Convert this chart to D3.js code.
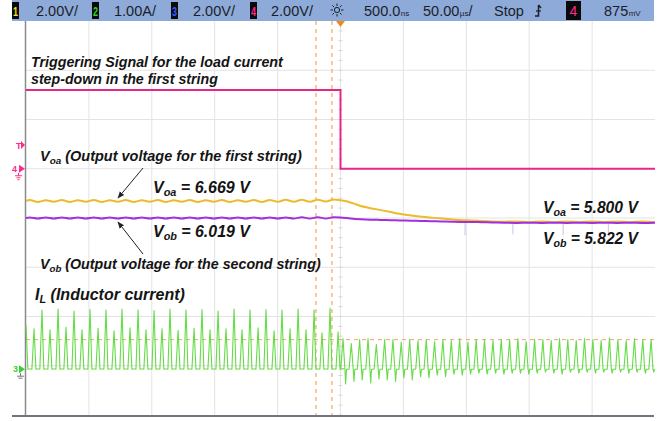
<!DOCTYPE html>
<html>
<head>
<meta charset="utf-8">
<script src="https://cdn.jsdelivr.net/npm/d3@7"></script>
<style>
  body { margin: 0; background: #fff; }
  svg { display: block; font-family: "Liberation Sans", Arial, sans-serif; }
</style>
</head>
<body>
<div id="scope"></div>
<script>
// ---- readout / data ----
const chanBoxes = ["1", "2", "3", "4"];
const chanScales = ["2.00V/", "1.00A/", "2.00V/", "2.00V/"];
const chanColors = ["#f2e21c", "#2bd62b", "#3a5cff", "#ff2a8c"];

// time axis in µs, 50 µs/div, trigger at centre
const timeTicks = [-250, -200, -150, -100, -50, 0, 50, 100, 150, 200, 250];
const divTicks = [-4, -3, -2, -1, 0, 1, 2, 3, 4];

// trigger signal (ch4, V)
const trigT = [-250, 0, 0, 250];
const trigV = [3.2, 3.2, 0, 0];

// output voltage ripple before the step (same sample times for both strings)
const rippleT = [-250, -247, -240.6, -234.3, -227.9, -221.5, -215.1, -208.8, -202.4, -196.1, -189.7,
  -183.4, -177, -170.7, -164.3, -157.9, -151.6, -145.2, -138.9, -132.5, -126.2, -119.8, -113.4,
  -107.1, -100.7, -94.3, -88, -81.6, -75.3, -68.9, -62.5, -56.2, -49.8, -43.5, -37.1, -30.7,
  -24.4, -18, -11.6, -5.3];
const voaRipple = [6.67, 6.71, 6.63, 6.70, 6.64, 6.71, 6.63, 6.70, 6.64, 6.71, 6.63,
  6.70, 6.64, 6.71, 6.63, 6.70, 6.64, 6.71, 6.63, 6.70, 6.64, 6.71, 6.63,
  6.70, 6.64, 6.71, 6.63, 6.70, 6.64, 6.71, 6.63, 6.71, 6.64, 6.72, 6.64, 6.72,
  6.64, 6.72, 6.65, 6.73];
const vobRipple = [6.02, 6.04, 6.00, 6.04, 6.00, 6.04, 6.00, 6.04, 6.00, 6.04, 6.00,
  6.04, 6.00, 6.04, 6.00, 6.04, 6.00, 6.04, 6.00, 6.04, 6.00, 6.04, 6.00,
  6.04, 6.00, 6.04, 6.00, 6.04, 6.00, 6.04, 6.00, 6.04, 6.00, 6.04, 6.00, 6.05,
  6.00, 6.05, 6.00, 6.05];

// output voltages after the step
const voaStepT = [0, 4, 8, 12, 16, 22, 28, 34, 40, 47, 55, 63, 71, 79, 87, 95, 103, 111, 120, 130,
  140, 150, 160, 170, 180, 190, 200, 210, 220, 230, 240, 250];
const voaStepV = [6.70, 6.67, 6.61, 6.54, 6.47, 6.40, 6.34, 6.28, 6.22, 6.15, 6.09, 6.04, 6.00, 5.97,
  5.93, 5.90, 5.88, 5.86, 5.84, 5.83, 5.84, 5.81, 5.84, 5.81, 5.84, 5.81, 5.84, 5.81, 5.84, 5.81, 5.84, 5.81];
const vobStepT = [0, 8, 16, 24, 32, 40, 48, 56, 64, 72, 80, 88, 96, 104, 112, 120, 130, 140,
  150, 160, 170, 180, 190, 200, 210, 220, 230, 240, 250];
const vobStepV = [6.04, 6.00, 5.97, 5.95, 5.94, 5.93, 5.92, 5.91, 5.90, 5.89, 5.88, 5.87, 5.86,
  5.86, 5.85, 5.84, 5.83, 5.82, 5.83, 5.82, 5.83, 5.82, 5.83, 5.82, 5.83, 5.82, 5.83, 5.82, 5.83];
// faint glitches below Vob after the step (µs, V reached)
const vobGlitchT = [99, 137, 177, 213];
const vobGlitchV = [5.32, 5.35, 5.32, 5.35];

// inductor current pulses (A above the valley) before the step
const ilPreT = [-250.0, -243.6, -237.3, -230.9, -224.5, -218.2, -211.8, -205.5, -199.1, -192.7,
  -186.4, -180.0, -173.7, -167.3, -160.9, -154.6, -148.2, -141.9, -135.5, -129.1, -122.8, -116.4,
  -110.1, -103.7, -97.3, -91.0, -84.6, -78.3, -71.9, -65.5, -59.2, -52.8, -46.5, -40.1, -33.7,
  -27.4, -21.0, -14.7, -8.3, -1.9];
const ilPreA = [0.9, 0.82, 1.2, 0.8, 1.22, 0.85, 1.18, 0.8, 1.21, 0.83, 1.2, 0.78, 1.22, 0.84,
  1.2, 0.8, 1.19, 0.82, 1.22, 0.79, 1.2, 0.83, 1.21, 0.8, 1.18, 0.82, 1.22, 0.8, 1.2, 0.84,
  1.21, 0.78, 1.2, 0.82, 1.22, 0.8, 1.2, 0.74, 1.24, 0.76];
// after the step: peaks and the negative spike following each one
const ilPostT = [2, 8.6, 15.2, 21.9, 28.5, 35.1, 41.7, 48.3, 55, 61.6, 68.2, 74.8, 81.4, 88.1,
  94.7, 101.3, 107.9, 114.5, 121.2, 127.8, 134.4, 141, 147.6, 154.3, 160.9, 167.5, 174.1, 180.7,
  187.4, 194, 200.6, 207.2, 213.8, 220.5, 227.1, 233.7, 240.3, 246.9];
const ilPostA = [0.62, 0.52, 0.6, 0.62, 0.5, 0.6, 0.6, 0.55, 0.6, 0.58, 0.6, 0.56, 0.6, 0.58,
  0.62, 0.55, 0.6, 0.6, 0.58, 0.6, 0.6, 0.62, 0.56, 0.6, 0.6, 0.58, 0.62, 0.6, 0.58, 0.62, 0.6,
  0.58, 0.64, 0.6, 0.58, 0.62, 0.6, 0.6];
const ilPostDip = [-0.3, -0.25, -0.22, -0.28, -0.2, -0.22, -0.25, -0.18, -0.22, -0.15, -0.18,
  -0.12, -0.15, -0.1, -0.12, -0.1, -0.08, -0.1, -0.08, -0.1, -0.08, -0.08, -0.1, -0.08, -0.06,
  -0.08, -0.1, -0.06, -0.08, -0.06, -0.08, -0.06, -0.08, -0.06, -0.08, -0.06, -0.08, -0.06];

// channel display settings: units per division and value at the centre line
const chVoa = { perDiv: 2, center: 5.98 };
const chVob = { perDiv: 2, center: 6.019 };
const chTrig = { perDiv: 2, center: -2 };
const chIL = { perDiv: 1, center: 3.07 };

// ---- layout ----
const W = 662, H = 421;
const x = d3.scaleLinear().domain([-250, 250]).range([26, 655]);
const y = d3.scaleLinear().domain([-4, 4]).range([415, 21]);
const yv = ch => v => y((v - ch.center) / ch.perDiv);

const svg = d3.select("#scope").append("svg")
  .attr("width", W).attr("height", H).attr("viewBox", `0 0 ${W} ${H}`);

svg.append("defs").append("marker")
  .attr("id", "arrow").attr("viewBox", "0 0 10 10")
  .attr("refX", 9).attr("refY", 5)
  .attr("markerWidth", 7).attr("markerHeight", 7)
  .attr("orient", "auto")
  .append("path").attr("d", "M0,1 L10,5 L0,9 Z").attr("fill", "#222");

// grid
const grid = svg.append("g").attr("class", "grid");
grid.selectAll("line.v").data(timeTicks.slice(1, -1)).join("line")
  .attr("class", "v")
  .attr("x1", d => x(d)).attr("x2", d => x(d))
  .attr("y1", y(4)).attr("y2", y(-4))
  .attr("stroke", "#e3e3e3").attr("stroke-width", 1);
grid.selectAll("line.h").data(divTicks.slice(1, -1)).join("line")
  .attr("class", "h")
  .attr("x1", x(-250)).attr("x2", x(250))
  .attr("y1", d => y(d)).attr("y2", d => y(d))
  .attr("stroke", "#e3e3e3").attr("stroke-width", 1);

// minor ticks on the centre line
grid.selectAll("line.mt").data(d3.range(-4, 4.01, 0.2)).join("line")
  .attr("class", "mt")
  .attr("x1", x(0) - 2).attr("x2", x(0) + 2)
  .attr("y1", d => y(d)).attr("y2", d => y(d))
  .attr("stroke", "#d6d6d6");

// time cursors and trigger level
const orange = "#f4a562";
svg.selectAll("line.cur").data([-19.5, -6.8]).join("line")
  .attr("class", "cur")
  .attr("x1", d => x(d)).attr("x2", d => x(d))
  .attr("y1", y(4)).attr("y2", y(-4))
  .attr("stroke", orange).attr("stroke-width", 1.2)
  .attr("stroke-dasharray", "4,4");
svg.append("line")
  .attr("x1", x(-250)).attr("x2", x(250))
  .attr("y1", yv(chIL)(0.6)).attr("y2", yv(chIL)(0.6))
  .attr("stroke", orange).attr("stroke-width", 1).attr("stroke-dasharray", "4,4");

// frame
svg.append("line").attr("x1", 25.5).attr("x2", 25.5).attr("y1", 21).attr("y2", 415)
  .attr("stroke", "#8a8a8a").attr("stroke-width", 1.5);
svg.append("line").attr("x1", 12).attr("x2", 654).attr("y1", 416).attr("y2", 416)
  .attr("stroke", "#6f7682").attr("stroke-width", 2);

// traces
const line = ch => d3.line().x(d => x(d[0])).y(d => yv(ch)(d[1]));

const trig = d3.zip(trigT, trigV);
svg.append("path").attr("d", line(chTrig)(trig))
  .attr("fill", "none").attr("stroke", "#e8268a").attr("stroke-width", 2);

const voa = d3.zip(rippleT, voaRipple).concat(d3.zip(voaStepT, voaStepV));
const vob = d3.zip(rippleT, vobRipple).concat(d3.zip(vobStepT, vobStepV));
svg.selectAll("line.glitch").data(d3.zip(vobGlitchT, vobGlitchV)).join("line")
  .attr("class", "glitch")
  .attr("x1", d => x(d[0])).attr("x2", d => x(d[0]))
  .attr("y1", yv(chVob)(5.82)).attr("y2", d => yv(chVob)(d[1]))
  .attr("stroke", "#d6cbf2").attr("stroke-width", 1.2);
svg.append("path").attr("d", line(chVoa).curve(d3.curveMonotoneX)(voa))
  .attr("fill", "none").attr("stroke", "#eabc2c").attr("stroke-width", 2);
svg.append("path").attr("d", line(chVob).curve(d3.curveMonotoneX)(vob))
  .attr("fill", "none").attr("stroke", "#a22ee0").attr("stroke-width", 2);

// inductor current: narrow triangle pulses off the valley current
const il = [[-250, 0.9]];
ilPreT.forEach((t, i) => {
  if (i > 0) il.push([t - 1.7, 0]);
  il.push([t, ilPreA[i]], [t + 1.5, 0], [t + 4.5, 0.01]);
});
ilPostT.forEach((t, i) => {
  il.push([t - 1.8, 0], [t, ilPostA[i]], [t + 1.5, 0], [t + 2.1, ilPostDip[i]], [t + 2.8, 0]);
});
const ilPts = il.filter(d => d[0] >= -250 && d[0] <= 250);
svg.append("path").attr("d", line(chIL)(ilPts))
  .attr("fill", "none").attr("stroke", "#66dc46").attr("stroke-width", 1.1)
  .attr("stroke-linejoin", "round");

// left channel markers
const mk = svg.append("g").attr("font-weight", "bold").attr("font-size", 9);
mk.append("text").attr("x", 16).attr("y", 149).attr("fill", "#ff2a8c").text("T");
mk.append("path").attr("d", "M21,141 L25,145 L21,149 Z").attr("fill", "#ff2a8c");
mk.append("text").attr("x", 12).attr("y", y(1) + 3).attr("fill", "#ff2a8c").text("4");
mk.append("path").attr("d", `M19,${y(1) - 4} L25,${y(1)} L19,${y(1) + 4} Z`).attr("fill", "#ff2a8c");
mk.append("path")
  .attr("d", `M18.5,${y(1) + 4} V${y(1) + 7} M15,${y(1) + 7} H22 M16.5,${y(1) + 9} H20.5 M17.5,${y(1) + 11} H19.5`)
  .attr("stroke", "#ff2a8c").attr("fill", "none");
const ilBase = yv(chIL)(0);
mk.append("text").attr("x", 13).attr("y", ilBase + 3).attr("fill", "#3fcf2a").text("3");
mk.append("path").attr("d", `M19,${ilBase - 4} L25,${ilBase} L19,${ilBase + 4} Z`).attr("fill", "#3fcf2a");
mk.append("path")
  .attr("d", `M20.5,${ilBase + 4} V${ilBase + 7} M17,${ilBase + 7} H24 M18.5,${ilBase + 9} H22.5`)
  .attr("stroke", "#777").attr("fill", "none");

// annotation labels
function label(x0, y0, size, parts, target) {
  const t = svg.append("text").attr("x", x0).attr("y", y0)
    .attr("font-size", size).attr("font-weight", "bold").attr("font-style", "italic")
    .attr("fill", "#141414");
  let shifted = false;
  parts.forEach(p => {
    const s = t.append("tspan").text(p.sub || p.t);
    if (p.sub) { s.attr("font-size", "0.68em").attr("dy", "0.3em"); shifted = true; }
    else if (shifted) { s.attr("dy", "-0.2em"); shifted = false; }
  });
  if (target) {
    const w = t.node().getComputedTextLength();
    t.attr("font-size", size * target / w);
  }
  return t;
}

label(31, 67, 13, [{ t: "Triggering Signal for the load current" }], 252);
label(31, 84, 13, [{ t: "step-down in the first string" }], 187);
label(40, 161, 13, [{ t: "V" }, { sub: "oa" }, { t: " (Output voltage for the first string)" }], 262);
label(153, 193, 15, [{ t: "V" }, { sub: "oa" }, { t: " = 6.669 V" }], 97);
label(153, 237, 15, [{ t: "V" }, { sub: "ob" }, { t: " = 6.019 V" }], 97);
label(40, 269, 13, [{ t: "V" }, { sub: "ob" }, { t: " (Output voltage for the second string)" }], 281);
label(35, 300, 16, [{ t: "I" }, { sub: "L" }, { t: " (Inductor current)" }], 150);
label(543, 213, 15, [{ t: "V" }, { sub: "oa" }, { t: " = 5.800 V" }], 95);
label(543, 244, 15, [{ t: "V" }, { sub: "ob" }, { t: " = 5.822 V" }], 95);

// arrows
svg.append("line").attr("x1", 143).attr("y1", 168).attr("x2", 118).attr("y2", 198)
  .attr("stroke", "#222").attr("stroke-width", 1).attr("marker-end", "url(#arrow)");
svg.append("line").attr("x1", 143).attr("y1", 254).attr("x2", 118).attr("y2", 222)
  .attr("stroke", "#222").attr("stroke-width", 1).attr("marker-end", "url(#arrow)");

// ---- header readout bar ----
const ink = "#1b1e2a";
const hdr = svg.append("g").attr("class", "header");
hdr.append("rect").attr("x", 12).attr("y", 0).attr("width", 642).attr("height", 21)
  .attr("fill", "#8eaad9");
const boxX = [12, 92, 171, 250];
const scaleX = [36, 114, 193, 271];
chanBoxes.forEach((c, i) => {
  hdr.append("rect").attr("x", boxX[i]).attr("y", 2).attr("width", 7).attr("height", 17).attr("fill", "#0a0a0a");
  hdr.append("text").attr("x", boxX[i] + 3.5).attr("y", 15.5).attr("text-anchor", "middle")
    .attr("font-size", 12).attr("font-weight", "bold").attr("fill", chanColors[i])
    .attr("textLength", 5).attr("lengthAdjust", "spacingAndGlyphs").text(c);
  hdr.append("text").attr("x", scaleX[i]).attr("y", 16).attr("font-size", 14.5)
    .attr("fill", ink).text(chanScales[i]);
});

// sun icon (intensity)
const sun = hdr.append("g").attr("transform", "translate(337,10)")
  .attr("stroke", ink).attr("fill", "none");
sun.append("circle").attr("r", 2.6);
d3.range(8).forEach(k => {
  const a = k * Math.PI / 4;
  sun.append("line").attr("x1", 4 * Math.cos(a)).attr("y1", 4 * Math.sin(a))
    .attr("x2", 6.5 * Math.cos(a)).attr("y2", 6.5 * Math.sin(a));
});

// readouts with a small unit glued to the number
function readout(xx, num, unit, tail) {
  const t = hdr.append("text").attr("x", xx).attr("y", 16).attr("font-size", 14.5).attr("fill", ink);
  t.append("tspan").text(num);
  t.append("tspan").attr("font-size", 8).attr("dx", 0.5).text(unit);
  if (tail) t.append("tspan").text(tail);
}
readout(364, "500.0", "ns");
readout(423, "50.00", "µs", "/");
hdr.append("text").attr("x", 494).attr("y", 16).attr("font-size", 14.5).attr("fill", ink).text("Stop");
hdr.append("path").attr("d", "M535,16 H538.5 V5 M538.5,5 L541,8")
  .attr("stroke", ink).attr("stroke-width", 1.5).attr("fill", "none");
hdr.append("path").attr("d", "M536,11 H541").attr("stroke", ink).attr("stroke-width", 1.2);
hdr.append("rect").attr("x", 566).attr("y", 1).attr("width", 15).attr("height", 19).attr("fill", "#0a0a0a");
hdr.append("text").attr("x", 573.5).attr("y", 16).attr("text-anchor", "middle").attr("font-size", 14)
  .attr("fill", "#ff2a8c").text("4");
readout(604, "875", "mV");

// trigger position marker
svg.append("path").attr("d", `M${x(0) - 4.5},21 L${x(0) + 4.5},21 L${x(0)},27 Z`).attr("fill", "#f08a1e");
</script>
</body>
</html>
